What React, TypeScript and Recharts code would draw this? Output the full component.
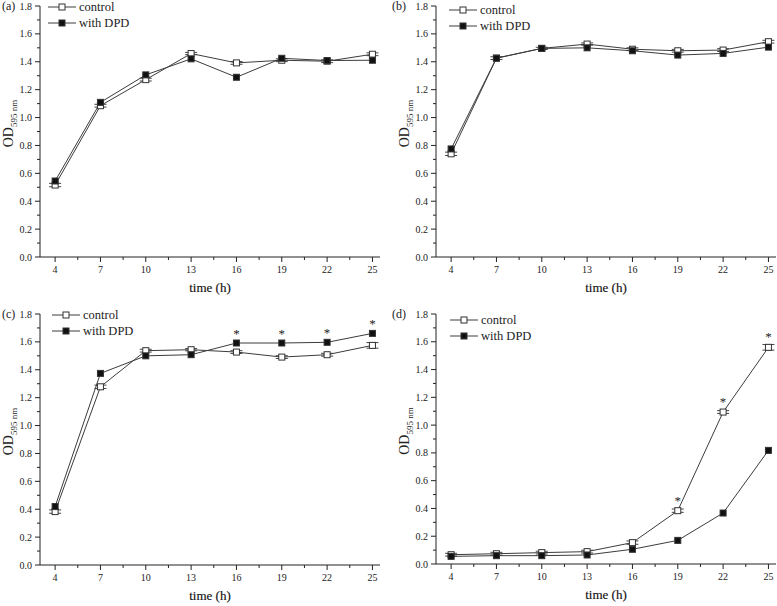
import React from 'react';
import { LineChart, Line, XAxis, YAxis, Legend, ErrorBar, LabelList } from 'recharts';

// sampling times (h)
const times = [4, 7, 10, 13, 16, 19, 22, 25];
const xTickValues = [4, 5.5, 7, 8.5, 10, 11.5, 13, 14.5, 16, 17.5, 19, 20.5, 22, 23.5, 25];
const yTickValues = [0, 0.1, 0.2, 0.3, 0.4, 0.5, 0.6, 0.7, 0.8, 0.9, 1.0, 1.1, 1.2, 1.3, 1.4, 1.5, 1.6, 1.7, 1.8];
const yLabelTicks = [0, 0.2, 0.4, 0.6, 0.8, 1.0, 1.2, 1.4, 1.6, 1.8];
const seriesNames = ['control', 'with DPD'];

// panel (a)
const aControl = [0.516, 1.085, 1.272, 1.459, 1.392, 1.411, 1.404, 1.454];
const aDPD = [0.545, 1.109, 1.306, 1.421, 1.289, 1.425, 1.409, 1.411];
const aErr = [0.012, 0.01, 0.01, 0.008, 0.01, 0.01, 0.01, 0.01];
// panel (b)
const bControl = [0.74, 1.426, 1.496, 1.527, 1.49, 1.479, 1.484, 1.544];
const bDPD = [0.775, 1.426, 1.496, 1.5, 1.479, 1.448, 1.46, 1.505];
const bErr = [0.012, 0.01, 0.008, 0.008, 0.01, 0.01, 0.01, 0.01];
// panel (c)
const cControl = [0.383, 1.278, 1.537, 1.544, 1.527, 1.491, 1.508, 1.575];
const cDPD = [0.419, 1.374, 1.5, 1.508, 1.592, 1.592, 1.597, 1.661];
const cErr = [0.012, 0.012, 0.01, 0.008, 0.01, 0.01, 0.01, 0.02];
const cStarDPD = [null, null, null, null, '*', '*', '*', '*'];
// panel (d)
const dControl = [0.067, 0.074, 0.082, 0.089, 0.154, 0.384, 1.094, 1.56];
const dDPD = [0.055, 0.06, 0.06, 0.065, 0.106, 0.17, 0.367, 0.818];
const dErr = [0.01, 0.01, 0.01, 0.01, 0.012, 0.012, 0.01, 0.02];
const dStarControl = [null, null, null, null, null, '*', '*', '*'];

const FONT = "'Liberation Serif', serif";
const INK = '#222';
const LINE = '#3c3c3c';
const txt = { fontFamily: FONT };

const buildRows = (control: number[], dpd: number[], err: number[], starC?: any[], starD?: any[]) =>
  times.map((t, i) => ({
    t,
    control: control[i],
    dpd: dpd[i],
    err: err[i],
    starC: starC ? starC[i] : null,
    starD: starD ? starD[i] : null,
  }));

const squareDot = (fill: string) => (props: any) => {
  const { cx, cy, index } = props;
  if (cx == null || cy == null) return <g key={index} />;
  return <rect key={index} x={cx - 3} y={cy - 3} width={6} height={6} fill={fill} stroke="#333" strokeWidth={1} />;
};

const XTick = (props: any) => {
  const { x, y, payload } = props;
  const major = times.includes(payload.value);
  return (
    <g>
      <line x1={x} x2={x} y1={y} y2={y + (major ? 5 : 3)} stroke={INK} strokeWidth={1} />
      {major && (
        <text x={x} y={y + 16} textAnchor="middle" fontSize={10} fill={INK} style={txt}>
          {payload.value}
        </text>
      )}
    </g>
  );
};

const YTick = (props: any) => {
  const { x, y, payload } = props;
  const major = yLabelTicks.includes(payload.value);
  return (
    <g>
      <line x1={x} x2={x - (major ? 5 : 3)} y1={y} y2={y} stroke={INK} strokeWidth={1} />
      {major && (
        <text x={x - 8} y={y + 3.5} textAnchor="end" fontSize={10} fill={INK} style={txt}>
          {payload.value.toFixed(1)}
        </text>
      )}
    </g>
  );
};

const LegendBox = () => (
  <svg width={100} height={32} style={{ display: 'block' }}>
    {seriesNames.map((name, i) => {
      const cy = 8 + i * 16;
      return (
        <g key={name}>
          <line x1={0} x2={28} y1={cy} y2={cy} stroke={LINE} strokeWidth={1} />
          <rect x={11} y={cy - 3} width={6} height={6} fill={i === 0 ? '#fff' : '#111'} stroke="#333" />
          <text x={31} y={cy + 4} fontSize={12.5} fill={INK} style={txt}>
            {name}
          </text>
        </g>
      );
    })}
  </svg>
);

type PanelProps = {
  tag: string;
  left: number;
  top: number;
  width: number;
  height: number;
  marginTop: number;
  marginRight: number;
  yWidth: number;
  xHeight: number;
  legendLeft: number;
  legendTop: number;
  rows: any[];
};

function Panel(p: PanelProps) {
  return (
    <div style={{ position: 'absolute', left: p.left, top: p.top, width: p.width, height: p.height }}>
      <LineChart
        width={p.width}
        height={p.height}
        data={p.rows}
        margin={{ top: p.marginTop, right: p.marginRight, left: 0, bottom: 0 }}
      >
        <XAxis
          dataKey="t"
          type="number"
          domain={[3, 25.5]}
          ticks={xTickValues}
          interval={0}
          height={p.xHeight}
          stroke={INK}
          tickLine={false}
          tickSize={0}
          tickMargin={0}
          tick={<XTick />}
          label={(lp: any) => {
            const vb = lp.viewBox;
            return (
              <text x={vb.x + vb.width / 2} y={vb.y + 35} textAnchor="middle" fontSize={13} fill="#111" stroke="#111" strokeWidth={0.15} style={txt}>
                time (h)
              </text>
            );
          }}
        />
        <YAxis
          type="number"
          domain={[0, 1.8]}
          ticks={yTickValues}
          interval={0}
          width={p.yWidth}
          stroke={INK}
          tickLine={false}
          tickSize={0}
          tickMargin={0}
          tick={<YTick />}
          allowDataOverflow
          label={(lp: any) => {
            const vb = lp.viewBox;
            const cx = vb.x + vb.width - 27;
            const cy = vb.y + vb.height / 2 - 8;
            return (
              <text x={cx} y={cy} transform={`rotate(-90 ${cx} ${cy})`} textAnchor="middle" fontSize={14} fill={INK} style={txt}>
                OD
                <tspan fontSize={9} dy={4}>595 nm</tspan>
              </text>
            );
          }}
        />
        <Legend
          layout="vertical"
          align="center"
          verticalAlign="middle"
          content={() => <LegendBox />}
          wrapperStyle={{ left: p.legendLeft, top: p.legendTop, width: 100, height: 32 }}
        />
        <Line
          dataKey="control"
          stroke={LINE}
          strokeWidth={1}
          dot={squareDot('#fff')}
          activeDot={false}
          isAnimationActive={false}
        >
          <ErrorBar dataKey="err" direction="y" width={6} stroke="#444" strokeWidth={1} isAnimationActive={false} />
          <LabelList dataKey="starC" position="top" offset={6} style={{ fontSize: 13, fill: INK, fontFamily: FONT }} />
        </Line>
        <Line
          dataKey="dpd"
          stroke={LINE}
          strokeWidth={1}
          dot={squareDot('#111')}
          activeDot={false}
          isAnimationActive={false}
        >
          <LabelList dataKey="starD" position="top" offset={5} style={{ fontSize: 13, fill: INK, fontFamily: FONT }} />
        </Line>
      </LineChart>
      <div style={{ position: 'absolute', left: 2, top: p.marginTop - 7, fontFamily: FONT, fontSize: 12, lineHeight: '14px', color: INK }}>
        {p.tag}
      </div>
    </div>
  );
}

export default function App() {
  return (
    <div style={{ position: 'absolute', left: 0, top: 0, width: 777, height: 606, background: '#fff', fontFamily: FONT }}>
      <Panel tag="(a)" left={0} top={0} width={390} height={300} marginTop={6} marginRight={10} yWidth={40} xHeight={43}
        legendLeft={48} legendTop={-1} rows={buildRows(aControl, aDPD, aErr)} />
      <Panel tag="(b)" left={390} top={0} width={387} height={300} marginTop={6} marginRight={1} yWidth={46} xHeight={43}
        legendLeft={59} legendTop={2} rows={buildRows(bControl, bDPD, bErr)} />
      <Panel tag="(c)" left={0} top={300} width={390} height={306} marginTop={14} marginRight={10} yWidth={40} xHeight={41}
        legendLeft={52} legendTop={7} rows={buildRows(cControl, cDPD, cErr, undefined, cStarDPD)} />
      <Panel tag="(d)" left={390} top={300} width={387} height={306} marginTop={14} marginRight={1} yWidth={46} xHeight={42}
        legendLeft={60} legendTop={12} rows={buildRows(dControl, dDPD, dErr, dStarControl, undefined)} />
    </div>
  );
}
